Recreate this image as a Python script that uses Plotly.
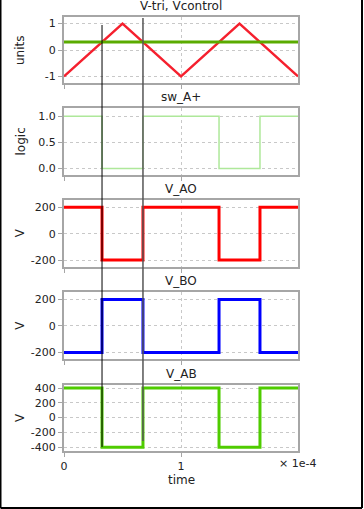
import plotly.graph_objects as go
from plotly.subplots import make_subplots

# ---- data ----
t_tri = [0, 0.5e-4, 1.0e-4, 1.5e-4, 2.0e-4]
v_tri = [-1, 1, -1, 1, -1]
v_control = 0.3
t_end = 2.0e-4

t_sw = [0, 0.325e-4, 0.675e-4, 1.325e-4, 1.675e-4, 2.0e-4]
sw_A = [1, 0, 1, 0, 1, 1]
v_AO = [200, -200, 200, -200, 200, 200]
v_BO = [-200, 200, -200, 200, -200, -200]
v_AB = [400, -400, 400, -400, 400, 400]

titles = ["V-tri, Vcontrol", "sw_A+", "V_AO", "V_BO", "V_AB"]
ylabels = ["units", "logic", "V", "V", "V"]
cursor_times = [t_sw[1], t_sw[2]]

# ---- layout geometry ----
W, H = 364, 509
L, R, T, B = 64, 66, 17, 58
ph = H - T - B
pw = W - L - R
panels_px = [(17, 83), (108, 175), (200, 266.7), (292.3, 359), (385, 451)]
def py(y):
    return (H - B - y) / ph
def px(x):
    return (x - L) / pw

fig = make_subplots(rows=5, cols=1, shared_xaxes=True)

fig.add_trace(go.Scatter(x=t_tri, y=v_tri, mode="lines",
                         line=dict(color="#f5202e", width=2.5)), row=1, col=1)
fig.add_trace(go.Scatter(x=[0, t_end], y=[v_control, v_control], mode="lines",
                         line=dict(color="#5aab00", width=3)), row=1, col=1)
fig.add_trace(go.Scatter(x=t_sw, y=sw_A, mode="lines", line_shape="hv",
                         line=dict(color="#aee89a", width=1.5)), row=2, col=1)
fig.add_trace(go.Scatter(x=t_sw, y=v_AO, mode="lines", line_shape="hv",
                         line=dict(color="#ff0000", width=3)), row=3, col=1)
fig.add_trace(go.Scatter(x=t_sw, y=v_BO, mode="lines", line_shape="hv",
                         line=dict(color="#0000ff", width=3)), row=4, col=1)
fig.add_trace(go.Scatter(x=t_sw, y=v_AB, mode="lines", line_shape="hv",
                         line=dict(color="#4fcc00", width=3)), row=5, col=1)

yranges = [[-1.25, 1.25], [-0.125, 1.16], [-250, 255], [-250, 255], [-452, 442]]
ytickvals = [[-1, 0, 1], [0, 0.5, 1.0], [-200, 0, 200], [-200, 0, 200],
             [-400, -200, 0, 200, 400]]
yticktext = [["-1", "0", "1"], ["0.0", "0.5", "1.0"], ["-200", "0", "200"],
             ["-200", "0", "200"], ["-400", "-200", "0", "200", "400"]]

axcommon = dict(showline=True, linecolor="#a6a6a6", linewidth=2, mirror=True,
                showgrid=True, gridcolor="#c8c8c8", griddash="dot", gridwidth=1,
                zeroline=False, ticks="outside", ticklen=4, tickcolor="#a6a6a6",
                tickfont=dict(family="DejaVu Sans", size=11, color="#222"))

annotations = []
for i in range(5):
    y0, y1 = panels_px[i]
    dom = [py(y1), py(y0)]
    yname = "yaxis" if i == 0 else f"yaxis{i+1}"
    xname = "xaxis" if i == 0 else f"xaxis{i+1}"
    fig.layout[yname].update(domain=dom, range=yranges[i], tickvals=ytickvals[i],
                             ticktext=yticktext[i], **axcommon)
    fig.layout[xname].update(range=[0, t_end], tickvals=[0, 1e-4],
                             ticktext=["0", "1"], showticklabels=(i == 4), **axcommon)
    annotations.append(dict(text=titles[i], xref="paper", yref="paper", x=0.5,
                            y=dom[1], xanchor="center", yanchor="bottom", yshift=2,
                            showarrow=False,
                            font=dict(family="DejaVu Sans", size=12, color="#222")))
    annotations.append(dict(text=ylabels[i], xref="paper", yref="paper", x=px(20),
                            y=(dom[0] + dom[1]) / 2, textangle=-90, showarrow=False,
                            xanchor="center", yanchor="middle",
                            font=dict(family="DejaVu Sans", size=12, color="#222")))

annotations.append(dict(text="time", xref="paper", yref="paper", x=px(181), y=py(480),
                        showarrow=False, xanchor="center", yanchor="middle",
                        font=dict(family="DejaVu Sans", size=12, color="#222")))
annotations.append(dict(text="× 1e-4", xref="paper", yref="paper", x=px(297), y=py(463),
                        showarrow=False, xanchor="center", yanchor="middle",
                        font=dict(family="DejaVu Sans", size=11, color="#222")))

shapes = []
cursor_style = [(25, 447, "black", 1), (18, 441, "#555555", 1.5)]
for tc, (ya, yb, col, w) in zip(cursor_times, cursor_style):
    shapes.append(dict(type="line", xref="x5", yref="paper", x0=tc, x1=tc,
                       y0=py(yb), y1=py(ya), line=dict(color=col, width=w)))
# outer frame (left, right, bottom)
xl, xr, yb = px(0.5), px(362), py(508)
for (x0, y0, x1, y1) in [(xl, yb, xl, py(0)), (xr, yb, xr, py(0)), (xl, yb, xr, yb)]:
    shapes.append(dict(type="line", xref="paper", yref="paper", x0=x0, y0=y0,
                       x1=x1, y1=y1, line=dict(color="black", width=2)))

fig.update_layout(width=W, height=H, margin=dict(l=L, r=R, t=T, b=B),
                  paper_bgcolor="white", plot_bgcolor="white", showlegend=False,
                  annotations=annotations, shapes=shapes)

fig.write_html("out.html")
